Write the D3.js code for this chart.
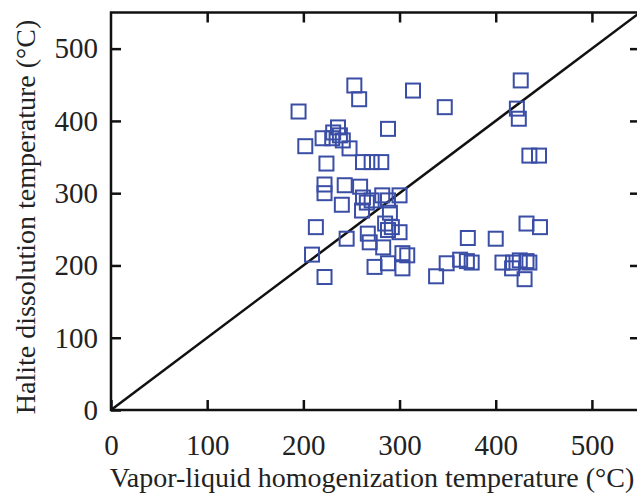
<!DOCTYPE html>
<html>
<head>
<meta charset="utf-8">
<script src="https://cdn.jsdelivr.net/npm/d3@7"></script>
<style>
  body{margin:0;background:#fff;}
  text{font-family:"Liberation Serif","Times New Roman",serif;fill:#222;}
</style>
</head>
<body>
<svg id="chart"></svg>
<script>
// vapor-liquid homogenization temperature (x) and halite dissolution temperature (y), °C
var homogT=[195,202,253,258,314,347,426,422,424,435,445,288,
            236,231,220,230,238,241,248,262,271,281,224,
            222,222,243,259,240,262,266,261,271,282,288,300,290,
            285,288,292,300,283,274,288,303,308,303,267,269,245,
            213,209,222,371,400,432,446,349,338,363,370,375,
            407,417,418,425,432,435,430];
var halitT=[413,365,449,430,442,419,456,417,403,352,352,389,
            391,384,376,376,380,373,362,343,343,343,341,
            312,300,311,309,284,294,287,276,290,297,290,297,273,
            258,249,253,246,225,198,203,217,214,196,244,232,237,
            253,215,184,238,237,258,253,203,185,208,206,204,
            204,196,204,207,206,204,181];
var xTicks=[0,100,200,300,400,500],
    yTicks=[0,100,200,300,400,500],
    dom=[0,550];

var W=637,H=493,
    pL=111,pR=640,pT=12.5,pB=410;
var svg=d3.select('#chart').attr('width',W).attr('height',H);
var x=d3.scaleLinear().domain(dom).range([pL,pR]),
    y=d3.scaleLinear().domain(dom).range([pB,pT]);

// 1:1 reference line
svg.append('line')
   .attr('x1',x(dom[0])).attr('y1',y(dom[0]))
   .attr('x2',x(dom[1])).attr('y2',y(dom[1]))
   .attr('stroke','#111').attr('stroke-width',2.5);

// data squares
var s=14;
svg.append('g').selectAll('rect').data(homogT).enter().append('rect')
   .attr('x',function(d){return x(d)-s/2;})
   .attr('y',function(d,i){return y(halitT[i])-s/2;})
   .attr('width',s).attr('height',s)
   .attr('fill','none').attr('stroke','#3b4ea6').attr('stroke-width',2);

// axes: ticks point inward, frame on all sides
function styleAxis(g){
  g.select('.domain').remove();
  g.selectAll('.tick line').attr('stroke','#111').attr('stroke-width',2.5);
  g.selectAll('.tick text').style('font-size','29px')
   .attr('font-family','"Liberation Serif",serif').attr('fill','#222');
}
svg.append('g').attr('transform','translate(0,'+pB+')')
   .call(d3.axisBottom(x).tickValues(xTicks).tickSize(-10).tickPadding(24))
   .call(styleAxis);
svg.append('g').attr('transform','translate('+pL+',0)')
   .call(d3.axisLeft(y).tickValues(yTicks).tickSize(-10).tickPadding(13))
   .call(styleAxis);
svg.append('g').attr('transform','translate(0,'+pT+')')
   .call(d3.axisTop(x).tickValues(xTicks.slice(1)).tickSize(-10).tickFormat(''))
   .call(styleAxis);
svg.append('g').attr('transform','translate('+pR+',0)')
   .call(d3.axisRight(y).tickValues(yTicks.slice(1)).tickSize(-10).tickFormat(''))
   .call(styleAxis);

svg.append('rect').attr('x',pL).attr('y',pT)
   .attr('width',pR-pL).attr('height',pB-pT)
   .attr('fill','none').attr('stroke','#111').attr('stroke-width',2.5);

// axis titles
svg.append('text').attr('x',372).attr('y',487)
   .attr('text-anchor','middle').style('font-size','28px')
   .text('Vapor-liquid homogenization temperature (°C)');
svg.append('text').attr('transform','translate(35,217) rotate(-90)')
   .attr('text-anchor','middle').style('font-size','28px')
   .text('Halite dissolution temperature (°C)');
</script>
</body>
</html>
